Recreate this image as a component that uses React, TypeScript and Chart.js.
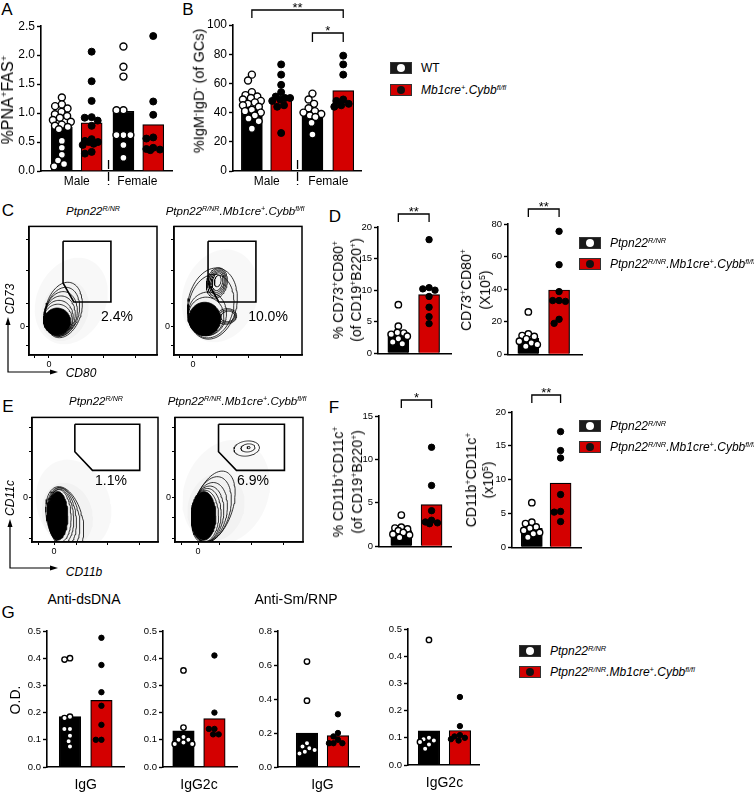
import React, { useEffect, useRef } from "react";
import { Chart, registerables } from "chart.js";
Chart.register(...registerables);

const FONT = "'Liberation Sans', Arial, Helvetica, sans-serif";
const RED = "#d40000";
Chart.defaults.font.family = FONT;

// ---------------- DATA ----------------
// Panel A: %PNA+FAS+
const sexLabels = ["Male", "Female"];
const aMeans = [0.76, 0.83, 1.03, 0.8];
const aWtMale = [1.27, 1.15, 1.12, 1.08, 1.02, 0.98, 0.95, 0.92, 0.88, 0.85, 0.8, 0.78, 0.76, 0.72, 0.52, 0.4, 0.28, 0.18, 0.12, 0.08];
const aKoMale = [2.06, 1.55, 1.21, 0.93, 0.92, 0.87, 0.78, 0.55, 0.52, 0.5, 0.5, 0.47, 0.45, 0.33, 0.3];
const aWtFemale = [2.15, 1.8, 1.63, 1.05, 1.05, 0.62, 0.62, 0.62, 0.45, 0.23];
const aKoFemale = [2.33, 1.2, 0.97, 0.58, 0.56, 0.4, 0.38, 0.37, 0.36];
// Panel B: %IgM-IgD- (of GCs)
const bMeans = [43.5, 50, 38, 55];
const bWtMale = [66, 62, 54, 52, 51, 50, 49, 48, 47, 46, 45, 44, 42, 41, 40, 38, 36, 34, 29];
const bKoMale = [73, 66, 59, 54, 51, 50, 50, 49, 48, 45, 44, 26];
const bWtFemale = [53, 49, 46, 43, 41, 40, 39, 38, 37, 33, 25];
const bKoFemale = [79, 73, 66, 49, 48, 46, 45, 44];
// Panel D
const dPctMeans = [3.3, 9.3];
const dPctWt = [7.7, 4.3, 3.3, 3.2, 3.0, 2.7, 2.3, 1.8, 1.5];
const dPctKo = [18.0, 10.4, 10.2, 10.0, 9.0, 7.3, 5.8, 4.7];
const dNumMeans = [10, 39.5];
const dNumWt = [26, 12.5, 11.5, 11, 9.5, 8, 7, 6, 5];
const dNumKo = [75.5, 55, 38.5, 33, 33, 32.5, 21.5, 19];
// Panel F
const fPctMeans = [1.8, 4.8];
const fPctWt = [3.6, 2.2, 2.1, 2.0, 1.8, 1.6, 1.4, 1.3, 1.0];
const fPctKo = [11.4, 7.0, 4.1, 3.0, 2.8, 2.7, 2.6];
const fNumMeans = [2.8, 9.5];
const fNumWt = [6.6, 3.7, 3.5, 3.0, 2.8, 2.5, 2.2, 2.0, 1.5];
const fNumKo = [17.1, 14.3, 13.2, 7.8, 5.3, 5.2, 3.8];
// Panel G (O.D.)
const gDsIgGMeans = [0.185, 0.245];
const gDsIgGWt = [0.4, 0.395, 0.185, 0.18, 0.14, 0.14, 0.115, 0.095, 0.075];
const gDsIgGKo = [0.475, 0.375, 0.275, 0.225, 0.155, 0.1, 0.1];
const gDsIgG2cMeans = [0.133, 0.178];
const gDsIgG2cWt = [0.355, 0.145, 0.11, 0.1, 0.1, 0.09, 0.085, 0.085];
const gDsIgG2cKo = [0.41, 0.2, 0.14, 0.14, 0.12, 0.12];
const gSmIgGMeans = [0.2, 0.185];
const gSmIgGWt = [0.62, 0.39, 0.14, 0.12, 0.11, 0.1, 0.09, 0.08];
const gSmIgGKo = [0.31, 0.2, 0.18, 0.16, 0.14, 0.14, 0.14];
const gSmIgG2cMeans = [0.126, 0.127];
const gSmIgG2cWt = [0.46, 0.1, 0.095, 0.09, 0.085, 0.075, 0.06];
const gSmIgG2cKo = [0.25, 0.143, 0.11, 0.105, 0.1, 0.095, 0.09];
const isotypeLabels = ["IgG", "IgG2c", "IgG", "IgG2c"];

// Flow cytometry (axis units 0-100 inside each plot frame)
const cGate = [[26.6, 88.5], [64, 88.5], [64, 41.2], [35, 41.2], [26.6, 56]];
const eGate = [[34, 94.5], [85.5, 94.5], [85.5, 57.5], [48, 57.5], [34, 72.4]];
const flowPct = ["2.4%", "10.0%", "1.1%", "6.9%"];
// contour ellipses: [cx, cy, rx, ry, tiltDeg]
const cLeftHaze = [[33, 42, 27, 35, -25], [28, 34, 18, 24, -20]];
const cLeftRings = [[27, 35, 14, 22, -15], [26, 33.5, 13, 19.5, -15], [25, 32, 12.5, 17.5, -12], [24, 30.5, 12, 15.5, -10], [23, 29, 11.5, 13.5, -6], [22.5, 27.5, 11.2, 12, -3]];
const cLeftCore = [[22, 26, 10.5, 10.5, 0]];
const cRightHaze = [[36, 46, 29, 37, -20], [30, 38, 20, 26, -15]];
const cRightRings = [[30, 40, 19, 28, -12], [29, 38, 17.5, 25, -12], [33.5, 56, 8, 12, -12], [33.6, 56.2, 7, 10.8, -12], [33.8, 56.5, 6, 9.5, -12], [34, 56.8, 5, 8.2, -12], [34, 57, 4, 7, -12], [34.2, 57.5, 2.5, 4.5, -12], [41, 30, 8, 6, 10], [41.5, 30, 6.8, 5, 10], [42, 30, 5.5, 4, 10], [26, 32, 15, 17, -8], [25, 30, 14, 15, -4]];
const cRightCore = [[24, 28, 12.5, 13, 0]];
const eLeftHaze = [[33, 30, 29, 37, 20], [28, 22, 20, 26, 15]];
const eLeftRings = [[26, 18, 14, 27, 14], [25, 19, 12.5, 25, 10], [24, 20, 11, 23.5, 7], [23, 20.5, 10, 22, 4], [22, 21, 9, 21, 2]];
const eLeftCore = [[20.5, 21, 8, 19.5, 0]];
const eRightHaze = [[40, 40, 33, 43, -20], [32, 28, 22, 28, -15]];
const eRightRings = [[30, 28, 15, 30, -18], [28.5, 26, 14.5, 27, -14], [27, 24, 13.5, 24, -10], [25.5, 22.5, 12.5, 22.5, -6], [24.5, 21.5, 11.5, 21.5, -3], [23.5, 21, 10.5, 20.5, 0], [56, 75, 10, 6, 8], [57, 75.5, 5.5, 3.2, 8], [57.5, 75.8, 1.2, 0.9, 0]];
const eRightCore = [[22.5, 21, 9.5, 19.5, 0]];

// ---------------- HELPERS ----------------
// deterministic beeswarm layout (horizontal offsets in px), bounded by the bar half-width
function swarm(values: number[], k: number, r: number, maxX: number): number[] {
  const order = values.map((_, i) => i).sort((a, b) => values[b] - values[a]);
  const placed: { x: number; y: number }[] = [];
  const out = new Array(values.length).fill(0);
  const D = 1.75 * r;
  for (const i of order) {
    const y = values[i] * k;
    const cands: number[] = [0];
    for (const q of placed) {
      const dy = Math.abs(q.y - y);
      if (dy < D) {
        const dx = Math.sqrt(D * D - dy * dy);
        cands.push(q.x + dx + 0.01, q.x - dx - 0.01);
      }
    }
    for (let g = 1; g <= maxX; g++) cands.push(g, -g);
    const ok = cands.filter((c) => Math.abs(c) <= maxX).sort((a, b) => Math.abs(a) - Math.abs(b) || a - b);
    let best: number | null = null;
    for (const c of ok) {
      if (placed.every((q) => (q.x - c) ** 2 + (q.y - y) ** 2 >= D * D - 0.05)) { best = c; break; }
    }
    if (best === null) {
      let bd = -1; best = 0;
      for (const c of ok) {
        const md = Math.min(...placed.map((q) => (q.x - c) ** 2 + (q.y - y) ** 2));
        if (md > bd + 0.01) { bd = md; best = c; }
      }
    }
    placed.push({ x: best, y });
    out[i] = best;
  }
  return out;
}

function ellipse(e: number[], n = 72) {
  const [cx, cy, rx, ry, a] = e;
  const A = (a * Math.PI) / 180;
  const pts: { x: number; y: number }[] = [];
  for (let i = 0; i <= n; i++) {
    const t = (i / n) * 2 * Math.PI;
    pts.push({
      x: cx + rx * Math.cos(t) * Math.cos(A) - ry * Math.sin(t) * Math.sin(A),
      y: cy + rx * Math.cos(t) * Math.sin(A) + ry * Math.sin(t) * Math.cos(A),
    });
  }
  return pts;
}

type Bracket = { a: number; b: number; dy: number; drop: number; text: string };
type BarPanel = {
  axisX: number; yTop: number; yZero: number; xEnd: number;
  yMax: number; step: number; dec: number; tickSize: number;
  pos: number[]; barW: number; kinds: string[]; means: number[]; dots: number[][];
  labels: { pos: number; text: string }[]; labelSize: number; labelPad: number; xAxisH: number;
  r: number; sep?: number; brackets: Bracket[]; padT: number;
};

function BarChart({ p }: { p: BarPanel }) {
  const ref = useRef<HTMLCanvasElement>(null);
  const yAxisW = 40, padR = 4;
  const W = p.xEnd - p.axisX;
  const left = p.axisX - yAxisW, top = p.yTop - p.padT;
  const width = Math.round(yAxisW + W + padR);
  const height = Math.round(p.padT + (p.yZero - p.yTop) + p.xAxisH);
  useEffect(() => {
    const k = (p.yZero - p.yTop) / p.yMax;
    const wt: any[] = [], ko: any[] = [];
    p.dots.forEach((vals, gi) => {
      const offs = swarm(vals, k, p.r + 0.5, p.barW / 2 - 1.5);
      vals.forEach((v, j) => (p.kinds[gi] === "wt" ? wt : ko).push({ x: p.pos[gi] + offs[j], y: v }));
    });
    const annot = {
      id: "annot",
      afterDatasetsDraw(chart: any) {
        const { ctx, chartArea: ca, scales } = chart;
        const xs = scales.x;
        ctx.save();
        ctx.strokeStyle = "#000"; ctx.fillStyle = "#000"; ctx.lineWidth = 1.3;
        ctx.font = `13px ${FONT}`; ctx.textAlign = "center"; ctx.textBaseline = "alphabetic";
        for (const b of p.brackets) {
          const x1 = xs.getPixelForValue(p.pos[b.a]), x2 = xs.getPixelForValue(p.pos[b.b]);
          const yt = ca.top + b.dy;
          ctx.beginPath(); ctx.moveTo(x1, yt + b.drop); ctx.lineTo(x1, yt); ctx.lineTo(x2, yt); ctx.lineTo(x2, yt + b.drop); ctx.stroke();
          ctx.fillText(b.text, (x1 + x2) / 2, yt + 2);
        }
        if (p.sep != null) {
          const xp = xs.getPixelForValue(p.sep);
          ctx.setLineDash([9, 3]);
          ctx.beginPath(); ctx.moveTo(xp, ca.bottom - 11); ctx.lineTo(xp, ca.bottom + 14); ctx.stroke();
        }
        ctx.restore();
      },
    };
    const chart = new Chart(ref.current as HTMLCanvasElement, {
      type: "bar",
      data: {
        datasets: [
          { type: "scatter", data: wt, backgroundColor: "#fff", borderColor: "#000", borderWidth: 1.4, pointRadius: p.r, pointHoverRadius: p.r, clip: false, order: 1 } as any,
          { type: "scatter", data: ko, backgroundColor: "#000", borderColor: "#000", borderWidth: 1, pointRadius: p.r, pointHoverRadius: p.r, clip: false, order: 1 } as any,
          { type: "bar", data: p.means.map((m, i) => ({ x: p.pos[i], y: m })), backgroundColor: p.kinds.map((kd) => (kd === "wt" ? "#000" : RED)), borderColor: "#000", borderWidth: 1.2, barThickness: p.barW, order: 2 } as any,
        ],
      },
      options: {
        responsive: false, animation: false, devicePixelRatio: 1,
        layout: { padding: { top: p.padT, right: padR, left: 0, bottom: 0 } },
        plugins: { legend: { display: false }, tooltip: { enabled: false } },
        events: [],
        scales: {
          x: {
            type: "linear", min: 0, max: W, offset: false,
            grid: { display: false, drawTicks: false },
            border: { display: true, color: "#000", width: 1.6 },
            afterFit: (s: any) => { s.height = p.xAxisH; },
            afterBuildTicks: (s: any) => { s.ticks = p.labels.map((l) => ({ value: l.pos })); },
            ticks: { autoSkip: false, maxRotation: 0, padding: p.labelPad, color: "#000", font: { family: FONT, size: p.labelSize }, callback: (_v: any, i: number) => (p.labels[i] ? p.labels[i].text : "") },
          },
          y: {
            type: "linear", min: 0, max: p.yMax,
            afterFit: (s: any) => { s.width = yAxisW; },
            grid: { display: true, drawOnChartArea: false, drawTicks: true, tickLength: 4, tickWidth: 1.4, tickColor: "#000" },
            border: { display: true, color: "#000", width: 1.6 },
            ticks: { stepSize: p.step, padding: 2, color: "#000", font: { family: FONT, size: p.tickSize }, callback: (v: any) => Number(v).toFixed(p.dec) },
          },
        },
      } as any,
      plugins: [annot],
    });
    return () => chart.destroy();
  }, []);
  return <canvas ref={ref} width={width} height={height} style={{ position: "absolute", left, top, width, height }} />;
}

type FlowPanel = {
  box: number[]; xTicks: number[]; yTicks: number[]; xZero: number; yZero: number;
  gate: number[][]; haze: number[][]; rings: number[][]; cores: number[][];
};

function FlowChart({ f }: { f: FlowPanel }) {
  const ref = useRef<HTMLCanvasElement>(null);
  const [bl, bt, br, bb] = f.box;
  const yAxisW = 14, xAxisH = 14, pad = 4;
  const left = bl - yAxisW, top = bt - pad;
  const width = Math.round(yAxisW + (br - bl) + pad);
  const height = Math.round(pad + (bb - bt) + xAxisH);
  useEffect(() => {
    const frame = {
      id: "frame",
      afterDraw(chart: any) {
        const { ctx, chartArea: ca } = chart;
        ctx.save(); ctx.strokeStyle = "#000"; ctx.lineWidth = 1.5;
        ctx.strokeRect(ca.left, ca.top, ca.right - ca.left, ca.bottom - ca.top);
        ctx.restore();
      },
    };
    const ds: any[] = [];
    f.haze.forEach((e) => ds.push({ type: "line", data: ellipse(e), borderWidth: 0, pointRadius: 0, fill: "shape", backgroundColor: "rgba(0,0,0,0.028)", order: 5 }));
    f.rings.forEach((e) => ds.push({ type: "line", data: ellipse(e), borderColor: "#000", borderWidth: 0.8, pointRadius: 0, fill: false, order: 3 }));
    f.cores.forEach((e) => ds.push({ type: "line", data: ellipse(e), borderColor: "#000", borderWidth: 0.8, pointRadius: 0, fill: "shape", backgroundColor: "#000", order: 2 }));
    ds.push({ type: "line", data: f.gate.concat([f.gate[0]]).map(([x, y]) => ({ x, y })), borderColor: "#000", borderWidth: 1.6, pointRadius: 0, fill: false, order: 1 });
    const axis = (ticks: number[], zero: number, isY: boolean) => ({
      type: "linear", min: 0, max: 100,
      afterFit: (s: any) => { if (isY) s.width = yAxisW; else s.height = xAxisH; },
      afterBuildTicks: (s: any) => { s.ticks = ticks.map((v) => ({ value: v })); },
      grid: { display: true, drawOnChartArea: false, drawTicks: true, tickLength: 3, tickWidth: 1, tickColor: "#000" },
      border: { display: true, color: "#000", width: 1.5 },
      ticks: { autoSkip: false, maxRotation: 0, padding: 1, color: "#000", font: { family: FONT, size: 9 }, callback: (v: any) => (Math.abs(Number(v) - zero) < 0.01 ? "0" : "") },
    });
    const chart = new Chart(ref.current as HTMLCanvasElement, {
      type: "scatter",
      data: { datasets: ds },
      options: {
        responsive: false, animation: false, devicePixelRatio: 1, events: [],
        layout: { padding: { top: pad, right: pad, left: 0, bottom: 0 } },
        plugins: { legend: { display: false }, tooltip: { enabled: false } },
        scales: { x: axis(f.xTicks, f.xZero, false), y: axis(f.yTicks, f.yZero, true) },
      } as any,
      plugins: [frame],
    });
    return () => chart.destroy();
  }, []);
  return <canvas ref={ref} width={width} height={height} style={{ position: "absolute", left, top, width, height }} />;
}

// ---------------- PANEL LAYOUT ----------------
const KIND4 = ["wt", "ko", "wt", "ko"];
const KIND2 = ["wt", "ko"];
const panelA: BarPanel = {
  axisX: 41, yTop: 25, yZero: 171, xEnd: 173, yMax: 2.5, step: 0.5, dec: 1, tickSize: 12,
  pos: [21, 51, 83, 113], barW: 21, kinds: KIND4, means: aMeans, dots: [aWtMale, aKoMale, aWtFemale, aKoFemale],
  labels: [{ pos: 36, text: sexLabels[0] }, { pos: 97, text: sexLabels[1] }], labelSize: 12, labelPad: 3, xAxisH: 24,
  r: 3.5, sep: 68, brackets: [], padT: 8,
};
const panelB: BarPanel = {
  axisX: 233, yTop: 25, yZero: 171, xEnd: 362, yMax: 100, step: 20, dec: 0, tickSize: 12,
  pos: [19, 48.5, 80, 111], barW: 21, kinds: KIND4, means: bMeans, dots: [bWtMale, bKoMale, bWtFemale, bKoFemale],
  labels: [{ pos: 34, text: sexLabels[0] }, { pos: 96, text: sexLabels[1] }], labelSize: 12, labelPad: 3, xAxisH: 24,
  r: 3.5, sep: 65, padT: 25,
  brackets: [{ a: 0, b: 3, dy: -15, drop: 8, text: "**" }, { a: 2, b: 3, dy: 8, drop: 9, text: "*" }],
};
const small = { tickSize: 9.5, barW: 21, kinds: KIND2, labels: [], labelSize: 12, labelPad: 2, xAxisH: 6, r: 3.2, padT: 26 };
const panelD1: BarPanel = { ...small, axisX: 378, yTop: 227, yZero: 355, xEnd: 452, yMax: 20, step: 5, dec: 0, pos: [20.5, 51.5], means: dPctMeans, dots: [dPctWt, dPctKo], brackets: [{ a: 0, b: 1, dy: -13, drop: 8, text: "**" }] };
const panelD2: BarPanel = { ...small, axisX: 508, yTop: 224, yZero: 356, xEnd: 583, yMax: 80, step: 20, dec: 0, pos: [20.5, 51.5], means: dNumMeans, dots: [dNumWt, dNumKo], brackets: [{ a: 0, b: 1, dy: -15, drop: 8, text: "**" }] };
const panelF1: BarPanel = { ...small, axisX: 379, yTop: 416, yZero: 548, xEnd: 452, yMax: 15, step: 5, dec: 0, pos: [22.5, 53], means: fPctMeans, dots: [fPctWt, fPctKo], brackets: [{ a: 0, b: 1, dy: -16, drop: 8, text: "*" }] };
const panelF2: BarPanel = { ...small, axisX: 512, yTop: 412, yZero: 549, xEnd: 582, yMax: 20, step: 5, dec: 0, pos: [20, 49], means: fNumMeans, dots: [fNumWt, fNumKo], brackets: [{ a: 0, b: 1, dy: -17, drop: 8, text: "**" }] };
const gBase = { tickSize: 9.5, barW: 21.5, kinds: KIND2, labelSize: 14, labelPad: 10, xAxisH: 30, r: 2.7, padT: 8, brackets: [], dec: 1 };
const panelG1: BarPanel = { ...gBase, axisX: 47, yTop: 631, yZero: 767, xEnd: 125, yMax: 0.5, step: 0.1, pos: [23, 54.5], means: gDsIgGMeans, dots: [gDsIgGWt, gDsIgGKo], labels: [{ pos: 38.75, text: isotypeLabels[0] }] };
const panelG2: BarPanel = { ...gBase, axisX: 163, yTop: 631, yZero: 767, xEnd: 238, yMax: 0.5, step: 0.1, pos: [20.5, 51.5], means: gDsIgG2cMeans, dots: [gDsIgG2cWt, gDsIgG2cKo], labels: [{ pos: 36, text: isotypeLabels[1] }] };
const panelG3: BarPanel = { ...gBase, axisX: 278, yTop: 631, yZero: 767, xEnd: 360, yMax: 0.8, step: 0.2, pos: [29, 60], means: gSmIgGMeans, dots: [gSmIgGWt, gSmIgGKo], labels: [{ pos: 44.5, text: isotypeLabels[2] }] };
const panelG4: BarPanel = { ...gBase, axisX: 408, yTop: 629, yZero: 765, xEnd: 480, yMax: 0.5, step: 0.1, pos: [21, 52], means: gSmIgG2cMeans, dots: [gSmIgG2cWt, gSmIgG2cKo], labels: [{ pos: 36.5, text: isotypeLabels[3] }] };

const flowCL: FlowPanel = { box: [29, 224, 157, 355], xTicks: [4, 15.6, 33, 58, 83], yTicks: [7.6, 22, 39.7, 65.6, 89.6], xZero: 15.6, yZero: 22, gate: cGate, haze: cLeftHaze, rings: cLeftRings, cores: cLeftCore };
const flowCR: FlowPanel = { box: [174, 224, 302, 355], xTicks: [4, 14.8, 33, 58, 83], yTicks: [7.6, 22, 39.7, 65.6, 89.6], xZero: 14.8, yZero: 22, gate: cGate, haze: cRightHaze, rings: cRightRings, cores: cRightCore };
const flowEL: FlowPanel = { box: [32, 415, 158, 542], xTicks: [5, 17.5, 35, 60, 85], yTicks: [3, 19.7, 35.4, 50, 72.4, 92], xZero: 17.5, yZero: 35.4, gate: eGate, haze: eLeftHaze, rings: eLeftRings, cores: eLeftCore };
const flowER: FlowPanel = { box: [175, 415, 303, 542], xTicks: [5, 18, 35, 60, 85], yTicks: [3, 19.7, 35.4, 50, 72.4, 92], xZero: 18, yZero: 35.4, gate: eGate, haze: eRightHaze, rings: eRightRings, cores: eRightCore };

// ---------------- TEXT HELPERS ----------------
const Sp = ({ children }: any) => <span style={{ fontSize: "0.62em", verticalAlign: "0.6em", lineHeight: 0 }}>{children}</span>;
function T({ x, y, s = 12, it = false, rot = false, al = "c", lh, children }: any) {
  const tr = (al === "l" ? "translate(0,-50%)" : "translate(-50%,-50%)") + (rot ? " rotate(-90deg)" : "");
  return (
    <div style={{ position: "absolute", left: x, top: y, transform: tr, fontSize: s, fontStyle: it ? "italic" : "normal", fontFamily: FONT, lineHeight: lh ? lh + "px" : 1, whiteSpace: "nowrap", textAlign: "center", color: "#000" }}>
      {children}
    </div>
  );
}
function Key({ x, y, ko, it = true, children }: any) {
  return (
    <div style={{ position: "absolute", left: x, top: y - 6, height: 12, display: "flex", alignItems: "center", whiteSpace: "nowrap" }}>
      <div style={{ width: 22, height: 12, boxSizing: "border-box", background: ko ? RED : "#1a1a1a", border: "1px solid #333", position: "relative", flex: "none" }}>
        <div style={{ position: "absolute", left: 6, top: 1, width: 8, height: 8, borderRadius: "50%", background: ko ? "#111" : "#fff" }} />
      </div>
      <span style={{ marginLeft: 9, fontSize: 12, fontFamily: FONT, fontStyle: it ? "italic" : "normal", lineHeight: 1 }}>{children}</span>
    </div>
  );
}
const Ptpn = () => <>Ptpn22<Sp>R/NR</Sp></>;
const PtpnKo = () => <>Ptpn22<Sp>R/NR</Sp>.Mb1cre<Sp>+</Sp>.Cybb<Sp>fl/fl</Sp></>;

export default function App() {
  return (
    <div style={{ position: "absolute", left: 0, top: 0, width: 754, height: 794, overflow: "hidden", background: "#fff", fontFamily: FONT }}>
      {/* panel letters */}
      <T x={7} y={9} s={17}>A</T>
      <T x={188} y={9} s={17}>B</T>
      <T x={8} y={210} s={17}>C</T>
      <T x={335} y={216} s={17}>D</T>
      <T x={8} y={406} s={17}>E</T>
      <T x={334} y={407} s={17}>F</T>
      <T x={8} y={612} s={17}>G</T>

      {/* A & B */}
      <BarChart p={panelA} />
      <BarChart p={panelB} />
      <T x={8} y={100} s={16} rot>%PNA<Sp>+</Sp>FAS<Sp>+</Sp></T>
      <T x={199} y={91} s={14.5} rot>%IgM<Sp>-</Sp>IgD<Sp>-</Sp> (of GCs)</T>
      <Key x={390} y={68} it={false}>WT</Key>
      <Key x={390} y={90} ko>Mb1cre<Sp>+</Sp>.Cybb<Sp>fl/fl</Sp></Key>

      {/* C */}
      <FlowChart f={flowCL} />
      <FlowChart f={flowCR} />
      <T x={93} y={212} s={11.5} it><Ptpn /></T>
      <T x={235} y={212} s={11.5} it><PtpnKo /></T>
      <T x={117} y={316} s={14}>{flowPct[0]}</T>
      <T x={268} y={316} s={14}>{flowPct[1]}</T>
      <T x={10} y={299} s={12} it rot>CD73</T>
      <T x={81} y={373} s={12} it>CD80</T>

      {/* D */}
      <BarChart p={panelD1} />
      <BarChart p={panelD2} />
      <T x={347} y={290} s={14} rot lh={18}>% CD73<Sp>+</Sp>CD80<Sp>+</Sp><br />(of CD19<Sp>+</Sp>B220<Sp>+</Sp>)</T>
      <T x={476} y={290} s={14} rot lh={19}>CD73<Sp>+</Sp>CD80<Sp>+</Sp><br />(X10<Sp>5</Sp>)</T>
      <Key x={579} y={243}><Ptpn /></Key>
      <Key x={579} y={264} ko><PtpnKo /></Key>

      {/* E */}
      <FlowChart f={flowEL} />
      <FlowChart f={flowER} />
      <T x={96} y={402} s={11.5} it><Ptpn /></T>
      <T x={237} y={402} s={11.5} it><PtpnKo /></T>
      <T x={111} y={480} s={14}>{flowPct[2]}</T>
      <T x={253} y={480} s={14}>{flowPct[3]}</T>
      <T x={10} y={498} s={12} it rot>CD11c</T>
      <T x={84} y={572} s={12} it>CD11b</T>

      {/* F */}
      <BarChart p={panelF1} />
      <BarChart p={panelF2} />
      <T x={348} y={482} s={14} rot lh={19}>% CD11b<Sp>+</Sp>CD11c<Sp>+</Sp><br />(of CD19<Sp>+</Sp>B220<Sp>+</Sp>)</T>
      <T x={480} y={480} s={14} rot lh={17}>CD11b<Sp>+</Sp>CD11c<Sp>+</Sp><br />(x10<Sp>5</Sp>)</T>
      <Key x={579} y={426}><Ptpn /></Key>
      <Key x={579} y={447} ko><PtpnKo /></Key>

      {/* G */}
      <BarChart p={panelG1} />
      <BarChart p={panelG2} />
      <BarChart p={panelG3} />
      <BarChart p={panelG4} />
      <T x={84} y={599} s={14}>Anti-dsDNA</T>
      <T x={296} y={599} s={14}>Anti-Sm/RNP</T>
      <T x={15} y={700} s={14} rot>O.D.</T>
      <Key x={519} y={651}><Ptpn /></Key>
      <Key x={519} y={672} ko><PtpnKo /></Key>

      {/* axis arrows for flow plots */}
      <svg width={70} height={590} style={{ position: "absolute", left: 0, top: 0, pointerEvents: "none" }}>
        <g stroke="#000" strokeWidth={1.2} fill="none">
          <polyline points="8,323 8,372 52,372" />
          <polyline points="10,525 10,568 52,568" />
        </g>
        <g fill="#000">
          <polygon points="8,317 5.5,325 10.5,325" />
          <polygon points="58,372 50,369.5 50,374.5" />
          <polygon points="10,519 7.5,527 12.5,527" />
          <polygon points="58,568 50,565.5 50,570.5" />
        </g>
      </svg>
    </div>
  );
}
